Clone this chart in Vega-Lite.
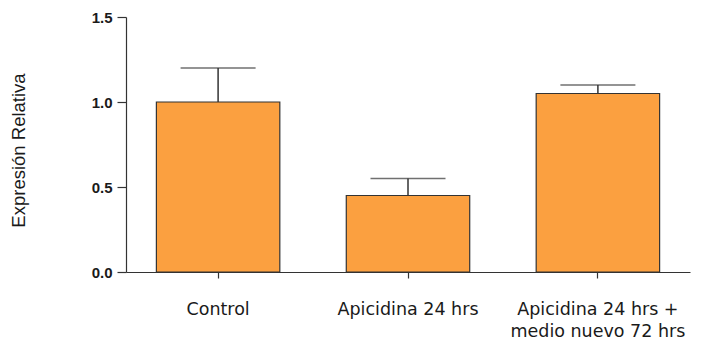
{
  "$schema": "https://vega.github.io/schema/vega-lite/v6.json",
  "width": 564,
  "height": 255,
  "autosize": "none",
  "padding": {"left": 126, "top": 17, "right": 19, "bottom": 71},
  "background": "white",
  "config": {"view": {"stroke": null}, "axis": {"grid": false}},
  "data": {
    "values": [
      {"group": "Control", "value": 1.0, "err": 1.2},
      {"group": "Apicidina 24 hrs", "value": 0.45, "err": 0.55},
      {"group": "Apicidina 24 hrs +|medio nuevo 72 hrs", "value": 1.05, "err": 1.1}
    ]
  },
  "encoding": {
    "x": {
      "field": "group",
      "type": "nominal",
      "sort": null,
      "scale": {"paddingInner": 0.35, "paddingOuter": 0.16},
      "axis": {
        "title": null,
        "labelAngle": 0,
        "labelExpr": "split(datum.value, '|')",
        "labelFont": "DejaVu Sans",
        "labelFontSize": 17.5,
        "labelColor": "#1a1a1a",
        "labelLineHeight": 22,
        "labelPadding": 22,
        "tickSize": 6,
        "tickColor": "#333",
        "domainColor": "#333",
        "domainWidth": 1.2,
        "tickWidth": 1.2
      }
    }
  },
  "layer": [
    {
      "mark": {"type": "bar", "fill": "#FBA040", "stroke": "#333", "strokeWidth": 1.2},
      "encoding": {
        "y": {
          "field": "value",
          "type": "quantitative",
          "scale": {"domain": [0, 1.5], "nice": false},
          "axis": {
            "values": [0, 0.5, 1, 1.5],
            "format": ".1f",
            "title": "Expresión Relativa",
            "titleFont": "Liberation Sans",
            "titleFontSize": 18.5,
            "titleFontWeight": "normal",
            "titleColor": "#1a1a1a",
            "titleAngle": -90,
            "titleX": -108,
            "titleY": 133,
            "titleAlign": "center",
            "titleBaseline": "middle",
            "labelFont": "Liberation Sans",
            "labelFontWeight": "bold",
            "labelFontSize": 15,
            "labelColor": "#1a1a1a",
            "labelPadding": 5,
            "tickSize": 9,
            "tickColor": "#333",
            "tickWidth": 1.2,
            "domainColor": "#333",
            "domainWidth": 1.2
          }
        }
      }
    },
    {
      "mark": {"type": "rule", "stroke": "#333", "strokeWidth": 1.5},
      "encoding": {
        "y": {"field": "value", "type": "quantitative"},
        "y2": {"field": "err"}
      }
    },
    {
      "mark": {"type": "tick", "color": "#333", "thickness": 1.5, "size": 75, "orient": "horizontal"},
      "encoding": {
        "y": {"field": "err", "type": "quantitative"}
      }
    }
  ]
}
